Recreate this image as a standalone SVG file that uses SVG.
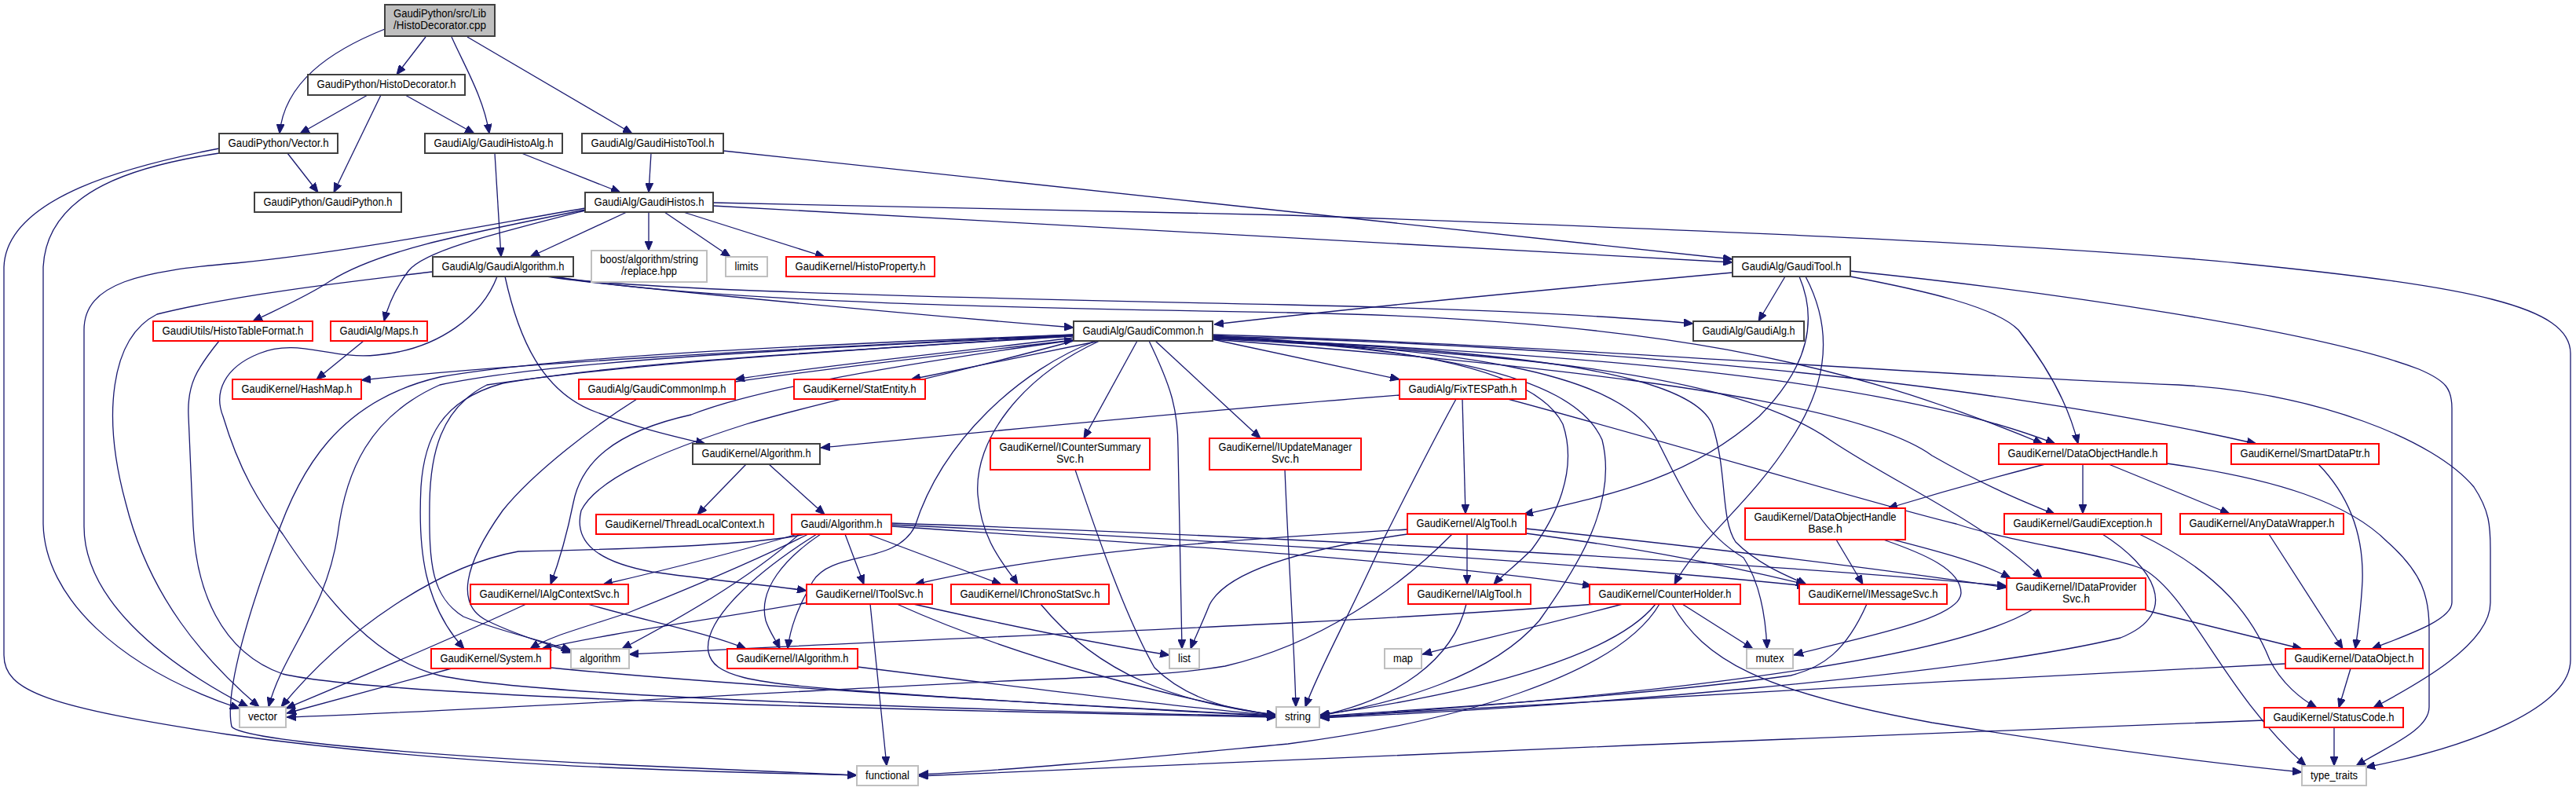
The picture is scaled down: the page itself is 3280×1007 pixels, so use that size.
<svg xmlns="http://www.w3.org/2000/svg" width="3280" height="1007" viewBox="0 0 3280 1007">
<defs>
<style>
.n rect{fill:#fff;stroke-width:2}
.k rect{stroke:#404040}
.r rect{stroke:#ff0000}
.g rect{stroke:#bfbfbf}
.root rect{fill:#bfbfbf}
text{font-family:"Liberation Sans",Arial,sans-serif;font-size:14px;text-anchor:middle;fill:#000}
#edges path{fill:none;stroke:#191970;stroke-width:1.3;marker-end:url(#arr)}
</style>
<marker id="arr" markerUnits="userSpaceOnUse" markerWidth="12" markerHeight="10" refX="12" refY="5" orient="auto"><path d="M0,0L12,5L0,10z" fill="#191970" stroke="#191970" stroke-width="1"/></marker>
</defs>
<rect width="3280" height="1007" fill="#fff"/>
<g id="edges">
<path d="M490,37 C420,65 362,105 356,170"/>
<path d="M542,47 L505,95"/>
<path d="M575,47 C592,85 616,125 623,170"/>
<path d="M595,47 L805,170"/>
<path d="M468,121 L382,170"/>
<path d="M485,121 L425,245"/>
<path d="M516,121 L604,170"/>
<path d="M366,195 L405,245"/>
<path d="M279,195 C180,210 60,240 55,340 L55,667 C57,760 150,850 305,902"/>
<path d="M279,189 C170,210 8,250 5,340 L5,834 C5,880 60,900 290,935 C600,978 900,982 1091,987"/>
<path d="M630,195 L638,327"/>
<path d="M664,195 L790,245"/>
<path d="M829,195 L826,245"/>
<path d="M921,192 L2206,330"/>
<path d="M908,262 L2206,334"/>
<path d="M908,258 L1640,274 C2100,290 2600,310 2850,335 C3150,365 3273,390 3273,450 L3273,840 C3273,900 3150,950 3012,977"/>
<path d="M798,270 L675,327"/>
<path d="M826,270 L826,319"/>
<path d="M846,270 L930,327"/>
<path d="M870,270 L1050,327"/>
<path d="M745,265 C600,290 450,320 300,335 C180,345 107,360 107,420 L107,670 C107,760 200,840 316,900"/>
<path d="M745,267 C580,300 480,320 420,358 C390,378 350,395 322,409"/>
<path d="M745,268 C620,300 540,320 520,345 C505,365 495,385 489,409"/>
<path d="M696,352 C760,362 1100,395 1367,417"/>
<path d="M700,352 C780,365 1000,375 1640,388 C1900,394 2050,402 2156,412"/>
<path d="M705,352 C900,385 1300,392 1640,398 C2100,406 2350,460 2601,565"/>
<path d="M643,352 C660,430 690,500 760,525 C820,548 870,558 898,565"/>
<path d="M551,346 C450,358 300,375 200,400 C140,430 130,530 160,640 C190,760 260,840 330,900"/>
<path d="M633,352 C615,400 560,445 480,452 C420,458 380,430 330,450 C285,468 272,500 284,530 C305,600 330,640 360,680 C420,770 480,840 560,860 C700,890 1300,905 1625,912"/>
<path d="M279,434 C250,470 238,490 240,530 L246,670 C250,750 280,830 360,858 C500,890 1200,905 1625,913"/>
<path d="M463,434 L403,483"/>
<path d="M2273,352 L2239,409"/>
<path d="M2206,347 C1900,375 1700,395 1546,413"/>
<path d="M2291,352 C2320,420 2290,480 2240,530 C2150,610 2050,630 1940,655"/>
<path d="M2299,352 C2340,430 2320,500 2280,560 C2230,640 2160,690 2132,744"/>
<path d="M2356,352 C2450,370 2540,390 2570,420 C2610,470 2635,520 2646,565"/>
<path d="M2356,345 C2600,370 2950,420 3080,470 C3115,485 3122,495 3122,520 L3122,767 C3122,790 3060,810 3020,826"/>
<path d="M1367,426 C1100,440 700,458 460,484"/>
<path d="M1367,430 C1200,450 1050,465 936,483"/>
<path d="M936,486 C1050,470 1200,452 1367,433"/>
<path d="M1400,434 L1160,483"/>
<path d="M1544,432 C1620,448 1700,465 1782,483"/>
<path d="M1448,434 L1380,558"/>
<path d="M1471,434 L1605,558"/>
<path d="M1463,434 C1490,490 1500,520 1500,570 L1505,826"/>
<path d="M1400,434 C1300,480 1240,560 1245,630 C1250,690 1280,720 1296,744"/>
<path d="M1395,434 C1300,470 1200,560 1165,670 C1140,720 1060,700 1035,740 C1015,775 1006,800 1003,826"/>
<path d="M1544,427 C1750,440 1950,460 1990,540 C2010,600 1980,660 1950,700 C1930,720 1910,735 1902,744"/>
<path d="M1544,428 C1800,445 2000,470 2040,560 C2060,640 2010,720 1960,790 C1900,860 1780,895 1680,911"/>
<path d="M1544,429 C1850,445 2060,470 2110,560 C2150,640 2170,680 2220,710 C2240,740 2248,780 2250,826"/>
<path d="M1544,430 C1900,445 2150,470 2180,540 C2200,600 2190,660 2210,690 C2240,720 2280,735 2300,744"/>
<path d="M1544,431 C1900,450 2200,470 2330,560 C2420,620 2520,660 2600,736"/>
<path d="M1544,430 C2000,450 2400,480 2617,565"/>
<path d="M1544,428 C2000,440 2500,480 2873,565"/>
<path d="M1544,432 C1900,460 2350,500 2460,580 C2530,620 2580,640 2617,655"/>
<path d="M1544,426 C2000,440 2400,475 2774,490 C2950,500 3100,560 3150,620 C3170,650 3171,670 3171,700 L3171,767 C3171,820 3080,870 3022,901"/>
<path d="M1367,433 C1100,470 950,500 880,528 C780,550 740,590 730,640 C720,690 710,720 701,744"/>
<path d="M1367,434 C1200,480 1050,510 950,540 C840,575 760,610 740,650 C730,690 760,715 830,728 C900,738 980,745 1027,752"/>
<path d="M1367,428 C1100,445 800,460 640,488 C560,510 540,560 536,620 C532,700 540,770 591,826"/>
<path d="M1367,427 C1100,445 800,462 620,490 C560,520 548,580 547,640 C546,720 550,760 590,785 C640,805 690,815 727,828"/>
<path d="M811,508 C760,540 680,600 640,650 C590,720 580,770 620,790 C660,810 700,820 728,831"/>
<path d="M1367,427 C1000,445 700,460 560,490 C470,530 440,600 430,680 C415,780 360,830 342,900"/>
<path d="M1367,426 C1000,440 700,455 560,480 C430,510 380,600 350,690 C320,770 285,880 295,925 C310,945 600,965 820,975 C950,980 1050,985 1091,987"/>
<path d="M950,591 L888,655"/>
<path d="M979,591 L1050,655"/>
<path d="M1782,503 C1500,525 1200,555 1045,570"/>
<path d="M1862,508 L1866,654"/>
<path d="M1854,508 C1820,570 1790,630 1760,690 C1720,780 1680,850 1662,900"/>
<path d="M1920,508 C2150,570 2380,640 2491,667 C2560,690 2680,705 2730,725 C2790,760 2830,880 2936,975"/>
<path d="M1076,680 L1100,744"/>
<path d="M1105,680 L1275,744"/>
<path d="M1045,680 C1000,710 965,750 975,790 C980,805 988,815 993,826"/>
<path d="M1029,680 C950,720 850,760 800,780 C740,800 700,810 675,826"/>
<path d="M1015,680 C930,705 850,725 768,744"/>
<path d="M1025,680 C960,695 760,700 660,702 C560,720 440,800 358,900"/>
<path d="M1040,680 C960,730 895,790 902,830 C908,860 950,870 1100,880 C1300,895 1500,905 1625,912"/>
<path d="M1018,680 C950,740 860,790 792,826"/>
<path d="M1135,670 C1400,688 1800,712 2027,746"/>
<path d="M1135,668 C1500,685 2000,715 2300,746"/>
<path d="M1135,666 C1500,678 2200,712 2555,746"/>
<path d="M1868,680 L1868,744"/>
<path d="M1943,679 C2100,700 2200,720 2299,744"/>
<path d="M1943,673 C2200,700 2400,725 2555,748"/>
<path d="M1792,674 C1600,685 1350,700 1165,744"/>
<path d="M1792,680 C1650,700 1560,730 1540,770 C1528,800 1520,815 1516,826"/>
<path d="M1849,680 C1780,750 1680,820 1560,848 C1500,858 1450,860 1300,866 C1000,880 600,905 365,913"/>
<path d="M2032,769 C1700,795 1200,812 801,833"/>
<path d="M2066,769 C1950,800 1880,815 1811,833"/>
<path d="M2108,769 C2060,830 1900,880 1681,910"/>
<path d="M2113,769 C2060,860 1850,920 1640,947 C1450,965 1300,980 1170,986"/>
<path d="M2142,769 L2232,826"/>
<path d="M2129,769 C2170,840 2240,880 2460,920 C2650,950 2800,970 2931,983"/>
<path d="M1867,769 C1850,840 1780,890 1681,911"/>
<path d="M2377,769 C2350,830 2320,850 2280,860 C2100,885 1850,900 1681,912"/>
<path d="M2588,776 C2500,830 2200,880 1681,913"/>
<path d="M2910,845 C2500,865 2000,895 1681,913"/>
<path d="M2677,680 C2740,720 2780,780 2700,812 C2500,860 2000,900 1681,914"/>
<path d="M2724,680 C2830,730 2870,790 2890,840 C2905,870 2930,890 2950,901"/>
<path d="M2993,851 L2978,901"/>
<path d="M2972,926 L2972,975"/>
<path d="M2883,917 C2400,935 1600,968 1170,988"/>
<path d="M2732,777 L2931,826"/>
<path d="M2889,680 L2983,826"/>
<path d="M2952,591 C2990,630 3010,680 3008,740 C3006,780 3002,805 2999,826"/>
<path d="M2759,590 C2900,610 2990,640 3040,690 C3085,730 3093,760 3093,800 L3093,900 C3093,930 3040,950 3000,975"/>
<path d="M2652,591 L2652,654"/>
<path d="M2685,591 L2839,654"/>
<path d="M2604,591 C2530,610 2460,630 2404,647"/>
<path d="M2338,687 L2372,744"/>
<path d="M2410,687 C2460,700 2520,715 2560,736"/>
<path d="M2398,687 C2450,705 2497,725 2497,755 C2497,790 2350,815 2284,834"/>
<path d="M1369,598 C1390,660 1430,780 1470,850 C1510,890 1570,905 1625,910"/>
<path d="M1636,598 C1640,700 1648,820 1650,900"/>
<path d="M1325,769 C1400,860 1500,895 1625,910"/>
<path d="M1142,769 C1300,840 1500,890 1625,911"/>
<path d="M1163,769 C1300,800 1400,820 1489,834"/>
<path d="M1108,769 L1129,975"/>
<path d="M1029,767 C900,790 780,805 690,826"/>
<path d="M1092,849 C1300,875 1500,900 1625,911"/>
<path d="M670,769 C560,820 440,870 364,902"/>
<path d="M748,769 C820,790 900,805 950,826"/>
<path d="M575,851 L365,908"/>
<path d="M701,850 C900,870 1300,895 1625,911"/>
</g>
<g id="nodes">
<g id="n-root" class="n k root"><rect x="490" y="6" width="140" height="40"/><text x="560" y="22" textLength="118" lengthAdjust="spacingAndGlyphs">GaudiPython/src/Lib</text><text x="560" y="37" textLength="118" lengthAdjust="spacingAndGlyphs">/HistoDecorator.cpp</text></g>
<g id="n-histodecorator-h" class="n k"><rect x="392" y="95" width="200" height="26"/><text x="492" y="112" textLength="177" lengthAdjust="spacingAndGlyphs">GaudiPython/HistoDecorator.h</text></g>
<g id="n-vector-h" class="n k"><rect x="279" y="170" width="151" height="25"/><text x="354.5" y="187" textLength="128" lengthAdjust="spacingAndGlyphs">GaudiPython/Vector.h</text></g>
<g id="n-gaudihistoalg" class="n k"><rect x="541" y="170" width="175" height="25"/><text x="628.5" y="187" textLength="152" lengthAdjust="spacingAndGlyphs">GaudiAlg/GaudiHistoAlg.h</text></g>
<g id="n-gaudihistotool" class="n k"><rect x="741" y="170" width="180" height="25"/><text x="831" y="187" textLength="157" lengthAdjust="spacingAndGlyphs">GaudiAlg/GaudiHistoTool.h</text></g>
<g id="n-gaudipython" class="n k"><rect x="324" y="245" width="187" height="25"/><text x="417.5" y="262" textLength="164" lengthAdjust="spacingAndGlyphs">GaudiPython/GaudiPython.h</text></g>
<g id="n-gaudihistos" class="n k"><rect x="745" y="245" width="163" height="25"/><text x="826.5" y="262" textLength="140" lengthAdjust="spacingAndGlyphs">GaudiAlg/GaudiHistos.h</text></g>
<g id="n-gaudialgorithm" class="n k"><rect x="551" y="327" width="179" height="25"/><text x="640.5" y="344" textLength="156" lengthAdjust="spacingAndGlyphs">GaudiAlg/GaudiAlgorithm.h</text></g>
<g id="n-boost" class="n g"><rect x="753" y="319" width="147" height="40"/><text x="826.5" y="335" textLength="125" lengthAdjust="spacingAndGlyphs">boost/algorithm/string</text><text x="826.5" y="350" textLength="71" lengthAdjust="spacingAndGlyphs">/replace.hpp</text></g>
<g id="n-limits" class="n g"><rect x="924" y="327" width="53" height="25"/><text x="950.5" y="344" textLength="30" lengthAdjust="spacingAndGlyphs">limits</text></g>
<g id="n-histoproperty" class="n r"><rect x="1001" y="327" width="189" height="25"/><text x="1095.5" y="344" textLength="166" lengthAdjust="spacingAndGlyphs">GaudiKernel/HistoProperty.h</text></g>
<g id="n-gauditool" class="n k"><rect x="2206" y="327" width="150" height="25"/><text x="2281" y="344" textLength="127" lengthAdjust="spacingAndGlyphs">GaudiAlg/GaudiTool.h</text></g>
<g id="n-histotableformat" class="n r"><rect x="195" y="409" width="203" height="25"/><text x="296.5" y="426" textLength="180" lengthAdjust="spacingAndGlyphs">GaudiUtils/HistoTableFormat.h</text></g>
<g id="n-maps" class="n r"><rect x="421" y="409" width="123" height="25"/><text x="482.5" y="426" textLength="100" lengthAdjust="spacingAndGlyphs">GaudiAlg/Maps.h</text></g>
<g id="n-gaudicommon" class="n k"><rect x="1367" y="409" width="177" height="25"/><text x="1455.5" y="426" textLength="154" lengthAdjust="spacingAndGlyphs">GaudiAlg/GaudiCommon.h</text></g>
<g id="n-gaudialg" class="n k"><rect x="2156" y="409" width="141" height="25"/><text x="2226.5" y="426" textLength="118" lengthAdjust="spacingAndGlyphs">GaudiAlg/GaudiAlg.h</text></g>
<g id="n-hashmap" class="n r"><rect x="296" y="483" width="164" height="25"/><text x="378" y="500" textLength="141" lengthAdjust="spacingAndGlyphs">GaudiKernel/HashMap.h</text></g>
<g id="n-gaudicommonimp" class="n r"><rect x="737" y="483" width="199" height="25"/><text x="836.5" y="500" textLength="176" lengthAdjust="spacingAndGlyphs">GaudiAlg/GaudiCommonImp.h</text></g>
<g id="n-statentity" class="n r"><rect x="1011" y="483" width="167" height="25"/><text x="1094.5" y="500" textLength="144" lengthAdjust="spacingAndGlyphs">GaudiKernel/StatEntity.h</text></g>
<g id="n-fixtespath" class="n r"><rect x="1782" y="483" width="161" height="25"/><text x="1862.5" y="500" textLength="138" lengthAdjust="spacingAndGlyphs">GaudiAlg/FixTESPath.h</text></g>
<g id="n-gk-algorithm" class="n k"><rect x="882" y="565" width="162" height="26"/><text x="963" y="582" textLength="139" lengthAdjust="spacingAndGlyphs">GaudiKernel/Algorithm.h</text></g>
<g id="n-icountersummarysvc" class="n r"><rect x="1261" y="558" width="203" height="40"/><text x="1362.5" y="574" textLength="180" lengthAdjust="spacingAndGlyphs">GaudiKernel/ICounterSummary</text><text x="1362.5" y="589">Svc.h</text></g>
<g id="n-iupdatemanagersvc" class="n r"><rect x="1540" y="558" width="193" height="40"/><text x="1636.5" y="574" textLength="170" lengthAdjust="spacingAndGlyphs">GaudiKernel/IUpdateManager</text><text x="1636.5" y="589">Svc.h</text></g>
<g id="n-dataobjecthandle" class="n r"><rect x="2545" y="565" width="214" height="26"/><text x="2652" y="582" textLength="191" lengthAdjust="spacingAndGlyphs">GaudiKernel/DataObjectHandle.h</text></g>
<g id="n-smartdataptr" class="n r"><rect x="2841" y="565" width="188" height="26"/><text x="2935" y="582" textLength="165" lengthAdjust="spacingAndGlyphs">GaudiKernel/SmartDataPtr.h</text></g>
<g id="n-threadlocalcontext" class="n r"><rect x="759" y="655" width="226" height="25"/><text x="872" y="672" textLength="203" lengthAdjust="spacingAndGlyphs">GaudiKernel/ThreadLocalContext.h</text></g>
<g id="n-gaudi-algorithm" class="n r"><rect x="1008" y="655" width="127" height="25"/><text x="1071.5" y="672" textLength="104" lengthAdjust="spacingAndGlyphs">Gaudi/Algorithm.h</text></g>
<g id="n-algtool" class="n r"><rect x="1792" y="654" width="151" height="26"/><text x="1867.5" y="671" textLength="128" lengthAdjust="spacingAndGlyphs">GaudiKernel/AlgTool.h</text></g>
<g id="n-dataobjecthandlebase" class="n r"><rect x="2222" y="647" width="204" height="40"/><text x="2324" y="663" textLength="181" lengthAdjust="spacingAndGlyphs">GaudiKernel/DataObjectHandle</text><text x="2324" y="678">Base.h</text></g>
<g id="n-gaudiexception" class="n r"><rect x="2552" y="654" width="200" height="26"/><text x="2652" y="671" textLength="177" lengthAdjust="spacingAndGlyphs">GaudiKernel/GaudiException.h</text></g>
<g id="n-anydatawrapper" class="n r"><rect x="2776" y="654" width="208" height="26"/><text x="2880" y="671" textLength="185" lengthAdjust="spacingAndGlyphs">GaudiKernel/AnyDataWrapper.h</text></g>
<g id="n-ialgcontextsvc" class="n r"><rect x="599" y="744" width="201" height="25"/><text x="699.5" y="761" textLength="178" lengthAdjust="spacingAndGlyphs">GaudiKernel/IAlgContextSvc.h</text></g>
<g id="n-itoolsvc" class="n r"><rect x="1027" y="744" width="160" height="25"/><text x="1107" y="761" textLength="137" lengthAdjust="spacingAndGlyphs">GaudiKernel/IToolSvc.h</text></g>
<g id="n-ichronostatsvc" class="n r"><rect x="1211" y="744" width="201" height="25"/><text x="1311.5" y="761" textLength="178" lengthAdjust="spacingAndGlyphs">GaudiKernel/IChronoStatSvc.h</text></g>
<g id="n-ialgtool" class="n r"><rect x="1793" y="744" width="156" height="25"/><text x="1871" y="761" textLength="133" lengthAdjust="spacingAndGlyphs">GaudiKernel/IAlgTool.h</text></g>
<g id="n-counterholder" class="n r"><rect x="2024" y="744" width="192" height="25"/><text x="2120" y="761" textLength="169" lengthAdjust="spacingAndGlyphs">GaudiKernel/CounterHolder.h</text></g>
<g id="n-imessagesvc" class="n r"><rect x="2291" y="744" width="188" height="25"/><text x="2385" y="761" textLength="165" lengthAdjust="spacingAndGlyphs">GaudiKernel/IMessageSvc.h</text></g>
<g id="n-idataprovidersvc" class="n r"><rect x="2555" y="736" width="177" height="40"/><text x="2643.5" y="752" textLength="154" lengthAdjust="spacingAndGlyphs">GaudiKernel/IDataProvider</text><text x="2643.5" y="767">Svc.h</text></g>
<g id="n-system" class="n r"><rect x="549" y="826" width="152" height="25"/><text x="625" y="843" textLength="129" lengthAdjust="spacingAndGlyphs">GaudiKernel/System.h</text></g>
<g id="n-algorithm" class="n g"><rect x="727" y="826" width="74" height="25"/><text x="764" y="843" textLength="52" lengthAdjust="spacingAndGlyphs">algorithm</text></g>
<g id="n-ialgorithm" class="n r"><rect x="926" y="826" width="166" height="25"/><text x="1009" y="843" textLength="143" lengthAdjust="spacingAndGlyphs">GaudiKernel/IAlgorithm.h</text></g>
<g id="n-list" class="n g"><rect x="1489" y="826" width="38" height="25"/><text x="1508" y="843" textLength="16" lengthAdjust="spacingAndGlyphs">list</text></g>
<g id="n-map" class="n g"><rect x="1763" y="826" width="47" height="25"/><text x="1786.5" y="843" textLength="25" lengthAdjust="spacingAndGlyphs">map</text></g>
<g id="n-mutex" class="n g"><rect x="2224" y="826" width="59" height="25"/><text x="2253.5" y="843" textLength="36" lengthAdjust="spacingAndGlyphs">mutex</text></g>
<g id="n-dataobject" class="n r"><rect x="2910" y="826" width="175" height="25"/><text x="2997.5" y="843" textLength="152" lengthAdjust="spacingAndGlyphs">GaudiKernel/DataObject.h</text></g>
<g id="n-vector" class="n g"><rect x="305" y="900" width="59" height="26"/><text x="334.5" y="917" textLength="37" lengthAdjust="spacingAndGlyphs">vector</text></g>
<g id="n-string" class="n g"><rect x="1625" y="900" width="55" height="26"/><text x="1652.5" y="917" textLength="33" lengthAdjust="spacingAndGlyphs">string</text></g>
<g id="n-statuscode" class="n r"><rect x="2883" y="901" width="177" height="25"/><text x="2971.5" y="918" textLength="154" lengthAdjust="spacingAndGlyphs">GaudiKernel/StatusCode.h</text></g>
<g id="n-functional" class="n g"><rect x="1091" y="975" width="78" height="25"/><text x="1130" y="992" textLength="56" lengthAdjust="spacingAndGlyphs">functional</text></g>
<g id="n-type-traits" class="n g"><rect x="2931" y="975" width="82" height="25"/><text x="2972" y="992" textLength="60" lengthAdjust="spacingAndGlyphs">type_traits</text></g>
</g>
</svg>
